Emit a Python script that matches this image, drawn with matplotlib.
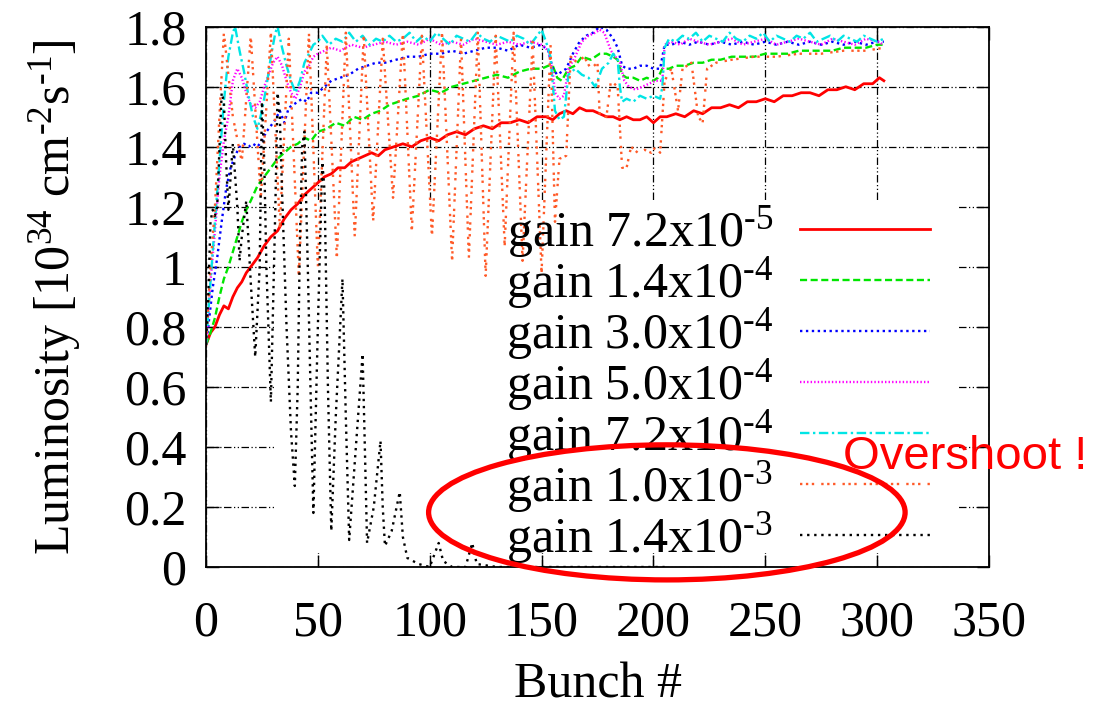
import matplotlib
matplotlib.use("Agg")
import matplotlib.pyplot as plt
from matplotlib.patches import Ellipse, Rectangle

plt.rcParams['font.family'] = ['Liberation Serif', 'DejaVu Serif']
plt.rcParams['mathtext.fontset'] = 'custom'
plt.rcParams['mathtext.rm'] = 'Liberation Serif'
plt.rcParams['mathtext.it'] = 'Liberation Serif:italic'
plt.rcParams['mathtext.bf'] = 'Liberation Serif:bold'

# ---------------- data ----------------
labels = ['gain 7.2x10$^{\\mathrm{\u20105}}$', 'gain 1.4x10$^{\\mathrm{\u20104}}$', 'gain 3.0x10$^{\\mathrm{\u20104}}$',
          'gain 5.0x10$^{\\mathrm{\u20104}}$', 'gain 7.2x10$^{\\mathrm{\u20104}}$', 'gain 1.0x10$^{\\mathrm{\u20103}}$',
          'gain 1.4x10$^{\\mathrm{\u20103}}$']

red_x = [0, 2, 4, 6, 8, 10, 12, 14, 16, 18, 20, 23, 26, 29, 32, 35, 38, 41, 44, 47, 50, 53, 56, 59, 62, 65,
         68, 71, 74, 77, 80, 84, 88, 92, 96, 100, 104, 108, 112, 116, 120, 124, 128, 132, 136, 140, 144, 148,
         152, 155, 158, 161, 164, 167, 170, 173, 176, 179, 182, 185, 188, 191, 194, 197, 200, 203, 206, 210,
         214, 218, 222, 226, 230, 234, 238, 242, 246, 250, 254, 258, 262, 266, 270, 274, 278, 282, 286, 290,
         294, 298, 301, 303]
red_y = [0.74, 0.78, 0.80, 0.84, 0.87, 0.86, 0.90, 0.93, 0.95, 0.98, 1.00, 1.03, 1.07, 1.10, 1.12, 1.16, 1.19,
         1.21, 1.24, 1.26, 1.28, 1.30, 1.31, 1.33, 1.33, 1.35, 1.36, 1.37, 1.38, 1.37, 1.39, 1.40, 1.41, 1.40,
         1.42, 1.43, 1.42, 1.44, 1.45, 1.44, 1.46, 1.47, 1.46, 1.48, 1.48, 1.49, 1.48, 1.50, 1.50, 1.49, 1.51,
         1.52, 1.51, 1.53, 1.52, 1.52, 1.51, 1.50, 1.50, 1.49, 1.50, 1.49, 1.49, 1.50, 1.48, 1.50, 1.50, 1.51,
         1.50, 1.52, 1.51, 1.53, 1.53, 1.54, 1.53, 1.55, 1.55, 1.56, 1.55, 1.57, 1.57, 1.58, 1.58, 1.57, 1.59,
         1.59, 1.60, 1.59, 1.61, 1.61, 1.63, 1.62]

green_x = [0, 2, 4, 6, 8, 10, 12, 14, 16, 18, 20, 23, 26, 29, 32, 35, 38, 41, 44, 47, 50, 54, 58, 62, 66, 70,
           74, 78, 82, 86, 90, 95, 100, 105, 110, 115, 120, 125, 130, 135, 140, 145, 150, 153, 155, 157, 159,
           162, 165, 168, 172, 176, 179, 182, 184, 186, 188, 191, 194, 197, 200, 202, 204, 207, 210, 214, 218,
           222, 226, 230, 235, 240, 245, 250, 255, 260, 265, 270, 275, 280, 285, 290, 295, 300, 303]
green_y = [0.74, 0.78, 0.83, 0.90, 0.96, 1.00, 1.05, 1.10, 1.15, 1.19, 1.22, 1.27, 1.30, 1.33, 1.36, 1.38,
           1.40, 1.41, 1.43, 1.42, 1.45, 1.46, 1.48, 1.47, 1.50, 1.49, 1.51, 1.52, 1.54, 1.55, 1.56, 1.57, 1.59,
           1.58, 1.60, 1.61, 1.62, 1.63, 1.64, 1.63, 1.65, 1.66, 1.66, 1.67, 1.67, 1.63, 1.62, 1.66, 1.67, 1.70,
           1.69, 1.71, 1.71, 1.70, 1.69, 1.64, 1.63, 1.63, 1.62, 1.63, 1.62, 1.63, 1.66, 1.66, 1.67, 1.67, 1.68,
           1.68, 1.69, 1.69, 1.70, 1.70, 1.70, 1.71, 1.71, 1.71, 1.72, 1.72, 1.72, 1.72, 1.73, 1.73, 1.73, 1.74,
           1.74]

blue_x = [0, 1, 3, 5, 7, 9, 11, 13, 15, 17, 19, 21, 23, 25, 27, 29, 31, 33, 35, 37, 39, 41, 43, 45, 47, 50, 53,
          56, 60, 64, 68, 72, 76, 80, 85, 90, 95, 100, 105, 110, 115, 120, 125, 130, 135, 140, 145, 150, 153,
          155, 157, 159, 161, 164, 167, 170, 173, 176, 179, 182, 184, 186, 188, 191, 194, 197, 200, 203, 205,
          208, 212, 216, 220, 225, 230, 235, 240, 245, 250, 255, 260, 265, 270, 275, 280, 285, 290, 295, 300, 303]
blue_y = [0.74, 0.80, 0.93, 1.03, 1.15, 1.26, 1.33, 1.37, 1.40, 1.41, 1.40, 1.41, 1.40, 1.42, 1.45, 1.47, 1.49,
          1.52, 1.48, 1.53, 1.54, 1.55, 1.56, 1.55, 1.58, 1.58, 1.60, 1.62, 1.63, 1.64, 1.66, 1.67, 1.68, 1.68,
          1.69, 1.70, 1.70, 1.71, 1.71, 1.72, 1.71, 1.72, 1.73, 1.73, 1.72, 1.74, 1.73, 1.74, 1.72, 1.66, 1.64,
          1.65, 1.66, 1.71, 1.75, 1.77, 1.78, 1.80, 1.79, 1.76, 1.73, 1.67, 1.66, 1.66, 1.67, 1.67, 1.66, 1.66,
          1.74, 1.74, 1.75, 1.74, 1.75, 1.74, 1.75, 1.74, 1.75, 1.74, 1.75, 1.74, 1.75, 1.74, 1.75, 1.74, 1.75,
          1.74, 1.75, 1.74, 1.75, 1.75]

magenta_x = [0, 2, 4, 6, 8, 10, 12, 14, 16, 18, 20, 22, 24, 26, 28, 30, 32, 34, 36, 38, 40, 42, 44, 46, 48, 50,
             53, 56, 60, 65, 70, 75, 80, 85, 90, 95, 100, 105, 110, 115, 120, 125, 130, 135, 140, 145, 150, 153,
             155, 156, 158, 160, 162, 165, 168, 171, 174, 176, 178, 181, 183, 185, 187, 189, 192, 195, 198, 201,
             204, 205, 208, 212, 216, 220, 225, 230, 235, 240, 245, 250, 255, 260, 265, 270, 275, 280, 285, 290,
             295, 300, 303]
magenta_y = [0.74, 0.95, 1.12, 1.30, 1.42, 1.50, 1.62, 1.66, 1.63, 1.58, 1.54, 1.53, 1.55, 1.60, 1.64, 1.68,
             1.70, 1.67, 1.62, 1.58, 1.56, 1.60, 1.65, 1.67, 1.70, 1.71, 1.72, 1.73, 1.72, 1.74, 1.73, 1.74, 1.75,
             1.74, 1.75, 1.74, 1.76, 1.74, 1.75, 1.74, 1.76, 1.75, 1.74, 1.75, 1.74, 1.75, 1.74, 1.72, 1.65, 1.58,
             1.56, 1.57, 1.66, 1.70, 1.75, 1.77, 1.78, 1.79, 1.78, 1.72, 1.70, 1.68, 1.62, 1.60, 1.59, 1.60, 1.61,
             1.62, 1.62, 1.74, 1.75, 1.74, 1.76, 1.75, 1.74, 1.75, 1.76, 1.74, 1.75, 1.76, 1.74, 1.75, 1.76, 1.75,
             1.74, 1.76, 1.75, 1.74, 1.76, 1.75, 1.74]

cyan_x = [0, 2, 4, 6, 8, 10, 12, 13, 15, 17, 19, 21, 23, 25, 27, 29, 31, 32, 34, 36, 38, 40, 42, 44, 46, 48, 50,
          52, 55, 58, 61, 64, 67, 70, 73, 76, 79, 82, 85, 88, 91, 94, 97, 100, 103, 106, 109, 112, 115, 118, 121,
          124, 127, 130, 133, 136, 139, 142, 145, 148, 150, 152, 154, 156, 158, 160, 162, 165, 168, 171, 174,
          177, 180, 182, 184, 185, 186, 188, 191, 194, 197, 200, 203, 204, 205, 207, 210, 213, 216, 219, 222,
          225, 228, 231, 234, 237, 240, 243, 246, 249, 252, 255, 258, 261, 264, 267, 270, 273, 276, 279, 282,
          285, 288, 291, 294, 297, 300, 303]
cyan_y = [0.74, 0.95, 1.15, 1.35, 1.55, 1.70, 1.78, 1.80, 1.72, 1.65, 1.57, 1.50, 1.46, 1.52, 1.60, 1.70, 1.78,
          1.80, 1.73, 1.67, 1.62, 1.58, 1.62, 1.68, 1.71, 1.74, 1.75, 1.77, 1.74, 1.76, 1.75, 1.78, 1.75, 1.77,
          1.74, 1.76, 1.75, 1.77, 1.75, 1.76, 1.78, 1.75, 1.77, 1.75, 1.78, 1.76, 1.74, 1.77, 1.76, 1.75, 1.78,
          1.76, 1.75, 1.77, 1.76, 1.75, 1.77, 1.76, 1.74, 1.77, 1.79, 1.75, 1.70, 1.52, 1.49, 1.50, 1.64, 1.66,
          1.64, 1.63, 1.60, 1.66, 1.68, 1.71, 1.69, 1.60, 1.55, 1.56, 1.55, 1.57, 1.56, 1.57, 1.56, 1.60, 1.73,
          1.76, 1.75, 1.77, 1.76, 1.78, 1.75, 1.77, 1.76, 1.75, 1.78, 1.76, 1.75, 1.77, 1.76, 1.78, 1.75, 1.77,
          1.76, 1.75, 1.77, 1.76, 1.78, 1.75, 1.76, 1.77, 1.75, 1.77, 1.76, 1.75, 1.77, 1.76, 1.75, 1.76]

orange_x = [0, 2, 4, 6, 8, 12, 16, 20, 24.5, 29, 33, 37, 41.5, 46, 50, 54, 58.5, 62.5, 66.5, 70.5, 74.7, 79,
            83.6, 88, 92, 96.5, 101, 105.5, 110, 114, 117.5, 121.5, 125, 129.5, 133.5, 137.5, 141.5, 146, 150,
            154, 156, 158, 161, 163, 166, 169, 172, 175, 176, 179, 181, 184, 186, 188, 190, 193, 196, 199, 201,
            203, 205, 208, 211, 213, 217, 220, 222, 224, 228, 235, 245, 255, 265, 275, 285, 295, 303]
orange_y = [0.74, 1.00, 1.20, 1.50, 1.78, 1.50, 1.35, 1.77, 1.23, 1.78, 1.13, 1.76, 0.97, 1.78, 1.00, 1.74,
            1.03, 1.78, 1.10, 1.77, 1.15, 1.76, 1.23, 1.78, 1.12, 1.77, 1.10, 1.78, 1.02, 1.76, 1.03, 1.78, 0.97,
            1.77, 1.07, 1.78, 1.02, 1.75, 0.98, 1.74, 1.15, 1.36, 1.37, 1.70, 1.68, 1.70, 1.66, 1.68, 1.50, 1.50,
            1.62, 1.60, 1.33, 1.33, 1.40, 1.38, 1.39, 1.38, 1.40, 1.38, 1.62, 1.66, 1.52, 1.66, 1.68, 1.50, 1.48,
            1.66, 1.68, 1.69, 1.70, 1.70, 1.71, 1.71, 1.72, 1.72, 1.73]

black_x = [0, 1, 2, 3, 4, 5, 7, 8, 9, 10, 12, 14, 15, 16, 18, 20, 22, 24, 25, 26, 27, 29, 31, 32, 33, 34, 36,
           38, 39.7, 41, 42, 43, 44, 45.5, 47, 48, 50, 52, 53, 54.5, 56, 58, 61, 62.5, 64, 67, 70, 71, 72, 75,
           78, 79, 80, 83, 86.6, 88, 90, 95, 100, 104, 106, 110, 116, 119, 121, 130, 205]
black_y = [0.74, 0.90, 1.15, 1.19, 1.17, 1.20, 1.58, 1.55, 1.35, 1.19, 1.41, 1.20, 1.02, 1.10, 1.22, 0.95,
           0.70, 1.00, 1.55, 1.36, 1.00, 0.55, 1.20, 1.58, 1.50, 1.25, 0.80, 0.45, 0.27, 0.60, 1.10, 1.40, 1.45,
           1.00, 0.50, 0.18, 0.80, 1.35, 1.25, 0.60, 0.12, 0.50, 0.96, 0.50, 0.09, 0.40, 0.71, 0.40, 0.08, 0.20,
           0.42, 0.20, 0.07, 0.12, 0.25, 0.10, 0.03, 0.01, 0.00, 0.08, 0.02, 0.00, 0.00, 0.08, 0.01, 0.00, 0.00]

xticks = [0, 50, 100, 150, 200, 250, 300, 350]
yticks = [0, 0.2, 0.4, 0.6, 0.8, 1.0, 1.2, 1.4, 1.6, 1.8]
ytick_labels = ['0', '0.2', '0.4', '0.6', '0.8', '1', '1.2', '1.4', '1.6', '1.8']

# ---------------- figure ----------------
fig = plt.figure(figsize=(10.99, 7.13), dpi=100)
ax = fig.add_axes([206 / 1099, 1 - 567 / 713, 783 / 1099, (567 - 26.7) / 713])

ax.set_xlim(0, 350)
ax.set_ylim(0, 1.8)
ax.set_xticks(xticks)
ax.set_xticklabels([str(t) for t in xticks])
ax.set_yticks(yticks)
ax.set_yticklabels(ytick_labels)
ax.tick_params(axis='both', direction='in', length=9, width=1.0, labelsize=36,
               top=True, right=True)
ax.tick_params(axis='x', pad=24)
ax.tick_params(axis='y', pad=14)
for s in ax.spines.values():
    s.set_linewidth(1.3)

ax.set_axisbelow(True)
ax.grid(True, color='black', linewidth=0.9, linestyle=(0, (6, 2, 1, 2, 1, 2)))
# blank area behind the key (as in the gnuplot original)
ax.add_patch(Rectangle((31, 0.045), 305, 1.17, facecolor='white', edgecolor='none', zorder=1))

series = [
    (red_x, red_y, '#ff0000', '-', 2.0),
    (green_x, green_y, '#00e600', (0, (3, 1.5)), 1.7),
    (blue_x, blue_y, '#0000ff', (0, (1, 1.5)), 1.7),
    (magenta_x, magenta_y, '#ff00ff', (0, (0.6, 0.9)), 1.7),
    (cyan_x, cyan_y, '#00e5e5', (0, (4, 1.5, 1, 1.5)), 1.7),
    (orange_x, orange_y, '#ff5a28', (0, (1, 1.5, 1, 1.5, 1, 3)), 1.7),
    (black_x, black_y, '#000000', (0, (1, 2)), 1.7),
]
handles = []
for (xs, ys, c, ls, w) in series:
    h, = ax.plot(xs, ys, color=c, linestyle=ls, linewidth=w, zorder=2)
    handles.append(h)

leg = ax.legend(handles, labels, loc='upper right', bbox_to_anchor=(0.925, 0.671),
                frameon=False, markerfirst=False, fontsize=36, handlelength=2.6,
                handletextpad=0.55, labelspacing=-0.1, borderpad=0, borderaxespad=0)

ax.set_xlabel('Bunch #', fontsize=36, labelpad=11)
ax.set_ylabel('Luminosity [10$^{\\mathrm{34}}$ cm$^{\\mathrm{\u20102}}$s$^{\\mathrm{\u20101}}$]',
              fontsize=36, labelpad=30)

# red ellipse annotation
ax.add_patch(Ellipse((206.0, 0.182), 213, 0.45, fill=False, edgecolor='#ff0000', linewidth=3.8,
                     clip_on=False, zorder=6))
fig.text(843 / 1099, 1 - 457 / 713, 'Overshoot !', color='#ff0000', fontsize=34,
         family='Liberation Sans', ha='left', va='center')

fig.savefig('out.png', dpi=100)
